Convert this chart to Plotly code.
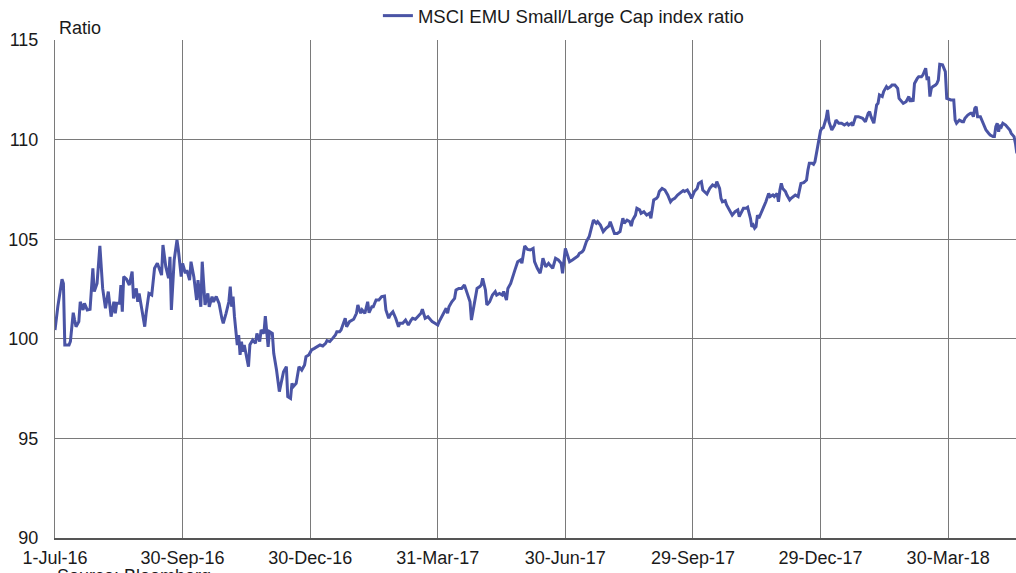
import pandas as pd
import plotly.graph_objects as go

start_date = "2016-07-01"
series_name = "MSCI EMU Small/Large Cap index ratio"

# days since 1-Jul-16
day_offsets = [
    0, 2, 5, 6, 7, 10, 11, 13, 14, 15, 17, 18, 20, 21, 23, 25, 27, 28, 30, 32, 34, 36, 38, 40, 42, 43, 44, 46, 47, 48, 49,
    51, 53, 55, 56, 58, 59, 60, 62, 64, 65, 67, 69, 71, 73, 74, 76, 77, 79, 81, 82, 83, 85, 87, 88, 90, 91, 93, 94, 96, 97,
    99, 101, 102, 104, 105, 107, 109, 110, 112, 113, 115, 117, 119, 120, 122, 124, 125, 126, 127, 128, 130, 131, 132, 133,
    134, 135, 138,
    139, 141, 143, 144, 146, 147, 149, 150, 152, 153, 155, 156, 158, 160, 162, 163, 165, 166, 168, 169, 170, 172, 174, 176,
    178, 179, 181, 183, 185, 187, 189, 191, 193, 194, 196, 198, 200, 201, 203, 204, 207, 208, 210, 213, 215, 216, 218, 219,
    221, 223, 224, 226, 227, 229, 231, 233, 235, 236, 238, 239, 241, 243, 245, 246, 248, 250, 252, 254, 255, 257, 259, 261,
    262, 264, 266, 267, 269, 271, 273,
    274, 276, 277, 279, 280, 281, 283, 285, 286, 288, 290, 292, 294, 296, 297, 299, 301, 303, 304, 305, 307, 308, 310, 312,
    314, 315, 317, 319, 320, 322, 323, 325, 326, 328, 330, 332, 333, 335, 337, 339, 341, 342, 344, 346, 347, 348, 350, 352,
    353, 355, 357, 359, 361, 362, 364, 365, 367, 369, 371, 373, 374, 376, 377, 379, 381, 383, 384, 386, 387, 389, 391, 393,
    395, 396, 398, 399, 401, 403, 405, 406, 408, 410,
    411, 412, 414, 415, 417, 418, 420, 422, 424, 425, 427, 429, 430, 431, 433, 435, 437, 439, 440, 442, 444, 446, 448, 449,
    451, 453, 454, 456, 458, 459, 461, 462, 464, 465, 467, 469, 471, 472, 474, 475, 476, 478, 479, 481, 483, 485, 487, 488,
    490, 491, 493, 494, 496, 497, 498, 499, 500, 501, 502, 504, 506, 507, 509, 510, 512, 513, 515, 516, 517, 518, 519, 521,
    522, 524, 525, 527, 528, 530, 531, 532, 534, 536, 537, 538, 540, 541, 542, 544,
    546, 547, 548, 550, 551, 552, 554, 556, 557, 559, 561, 563, 565, 566, 568, 569, 571, 573, 575, 576, 578, 580, 581, 582,
    584, 585, 586, 587, 588, 590, 591, 593, 594, 596, 597, 599, 601, 602, 604, 605, 607, 609, 610, 611, 612, 613, 615, 616,
    618, 619, 621, 622, 623, 624, 625, 626, 628, 629, 630, 631, 633, 634, 635, 636, 638, 639, 641, 642, 643, 645, 647, 648,
    649, 650, 651, 653, 654, 655, 656, 657, 658, 660, 661, 662, 663, 664, 666, 667, 669, 670, 671, 672, 673, 674, 675, 676,
    678, 679, 681, 682, 684, 685, 686,
]

ratio = [
    100.44, 101.61, 102.99, 102.78, 99.69, 99.69, 99.87, 101.31, 100.94, 100.61, 100.86, 101.86, 101.45, 101.78, 101.45,
    101.48, 103.54, 102.37, 102.78, 104.66, 102.53, 101.53, 102.37, 101.11, 101.86, 101.28, 101.78, 101.78, 102.70, 101.36,
    103.12, 102.99, 102.70, 103.37, 102.03, 102.53, 101.86, 102.28, 101.45, 100.61, 101.28, 102.28, 102.20, 103.54, 103.79,
    103.62, 103.20, 104.71, 103.62, 103.04, 104.12, 101.45, 103.96, 104.96, 104.46, 103.12, 103.79, 103.29, 103.45, 102.95,
    103.87, 103.12, 101.95, 102.95, 101.61, 103.87, 101.70, 102.28, 101.61, 102.12, 101.86, 102.12, 101.78, 101.03, 100.78,
    101.28, 101.86, 102.62, 101.61, 102.12, 101.11, 99.69, 100.19, 99.19, 99.86, 99.35, 99.69, 98.60,
    99.70, 99.94, 99.77, 100.27, 99.86, 100.44, 100.27, 101.14, 99.60, 100.36, 100.27, 99.27, 98.43, 97.35, 98.10, 98.35,
    98.60, 97.10, 97.01, 97.76, 97.60, 97.76, 98.60, 98.43, 98.68, 99.10, 99.19, 99.44, 99.52, 99.60, 99.69, 99.64, 99.77,
    99.91, 99.86, 100.02, 100.19, 100.36, 100.36, 100.44, 101.03, 100.61, 100.86, 100.98, 101.28, 101.70, 101.28, 101.45,
    101.28, 101.86, 101.31, 101.61, 101.61, 101.95, 101.95, 102.12, 102.15, 101.45, 101.03, 101.20, 101.36, 101.03, 100.61,
    100.78, 100.78, 100.94, 100.69, 100.94, 101.03, 100.98, 101.11, 101.28, 101.48, 101.03, 101.11, 101.03, 100.86, 100.78,
    100.69,
    100.86, 101.11, 101.28, 101.53, 101.28, 101.61, 101.86, 102.03, 102.45, 102.53, 102.53, 102.70, 102.28, 101.86, 100.94,
    101.78, 102.53, 102.62, 102.70, 103.04, 102.45, 101.70, 101.86, 102.20, 102.37, 102.20, 102.28, 102.20, 102.37, 101.95,
    102.53, 102.78, 103.04, 103.45, 103.87, 103.96, 103.79, 104.66, 104.49, 104.46, 104.54, 103.87, 103.54, 103.29, 103.62,
    104.04, 103.62, 103.79, 103.70, 103.54, 104.04, 103.96, 103.79, 103.29, 104.54, 104.29, 103.87, 103.96, 104.04, 104.16,
    104.29, 104.37, 104.46, 104.88, 105.13, 105.71, 105.96, 105.80, 105.88, 105.71, 105.38, 105.55, 105.66, 105.88, 105.55,
    105.29, 105.29, 105.38, 106.05, 105.80, 105.96, 105.88,
    105.66, 105.96, 106.21, 106.55, 106.47, 106.30, 106.38, 106.21, 106.30, 106.05, 106.97, 107.05, 107.14, 107.39, 107.55,
    107.47, 107.22, 106.88, 106.97, 107.05, 107.22, 107.34, 107.44, 107.39, 107.47, 107.22, 107.05, 107.39, 107.55, 107.80,
    107.89, 107.47, 107.30, 107.27, 107.55, 107.72, 107.64, 107.89, 107.55, 107.05, 106.88, 106.93, 106.72, 106.47, 106.21,
    106.38, 106.47, 106.13, 106.47, 106.55, 106.55, 106.60, 106.05, 105.63, 105.71, 105.55, 105.63, 106.21, 106.05, 106.38,
    106.72, 106.88, 107.30, 107.14, 107.22, 107.14, 107.30, 106.88, 107.47, 107.80, 107.55, 107.39, 107.22, 106.97, 107.05,
    107.14, 107.22, 107.14, 107.55, 107.80, 107.84, 107.97, 108.47, 108.81, 108.81, 108.76, 108.89, 109.60,
    110.45, 110.57, 110.60, 111.07, 111.49, 110.90, 110.48, 110.73, 110.98, 110.82, 110.82, 110.73, 110.82, 110.73, 110.82,
    110.70, 111.15, 111.15, 111.07, 111.07, 110.90, 111.32, 111.40, 111.15, 110.82, 111.32, 111.74, 111.82, 112.24, 112.16,
    112.41, 112.66, 112.57, 112.66, 112.74, 112.74, 112.57, 112.07, 111.90, 111.82, 111.90, 112.16, 111.90, 112.07, 111.90,
    112.82, 113.07, 113.16, 113.16, 113.24, 113.58, 112.99, 113.16, 112.16, 112.57, 112.66, 112.74, 112.82, 112.99, 113.78,
    113.75, 113.58, 113.41, 112.07, 112.02, 111.99, 111.99, 110.98, 110.82, 110.98, 110.90, 110.90, 111.07, 111.15, 111.23,
    111.32, 111.32, 111.15, 111.57, 111.65, 111.15, 111.15, 110.98, 110.90, 110.65, 110.48, 110.31, 110.23, 110.15, 110.15,
    110.65, 110.82, 110.40, 110.73, 110.65, 110.82, 110.73, 110.65, 110.48, 110.31, 110.15, 109.81, 109.31,
]

tick_dates = ["2016-07-01", "2016-09-30", "2016-12-30", "2017-03-31", "2017-06-30",
              "2017-09-29", "2017-12-29", "2018-03-30"]
tick_labels = ["1-Jul-16", "30-Sep-16", "30-Dec-16", "31-Mar-17", "30-Jun-17",
               "29-Sep-17", "29-Dec-17", "30-Mar-18"]
y_ticks = [90, 95, 100, 105, 110, 115]

t0 = pd.Timestamp(start_date)
dates = [t0 + pd.Timedelta(days=d) for d in day_offsets]
x_end = t0 + pd.Timedelta(days=685.4)

FONT = "Liberation Sans, Arial, sans-serif"
fig = go.Figure()
fig.add_trace(go.Scatter(x=dates, y=ratio, mode="lines", name=series_name,
                         line=dict(color="#4a54a5", width=3)))

fig.update_layout(
    width=1016, height=573,
    margin=dict(l=55, r=0, t=40, b=35, autoexpand=False),
    paper_bgcolor="white", plot_bgcolor="white",
    font=dict(family=FONT, size=18, color="#1a1a1a"),
    showlegend=True,
    legend=dict(orientation="h", x=0.336, xanchor="left", y=1.048, yanchor="middle",
                font=dict(size=18.5), bgcolor="rgba(0,0,0,0)", itemwidth=30),
    xaxis=dict(type="date", range=[t0, x_end], tickvals=tick_dates, ticktext=tick_labels,
               automargin=False,
               showgrid=True, gridcolor="#7a7a7a", gridwidth=1,
               showline=True, linecolor="#555555", linewidth=1.5,
               ticks="", tickfont=dict(size=18), ticklabelstandoff=3),
    yaxis=dict(range=[90, 115], tickvals=y_ticks, showgrid=True, gridcolor="#7a7a7a",
               automargin=False,
               gridwidth=1, zeroline=False, showline=True, linecolor="#7a7a7a",
               ticks="", tickfont=dict(size=18), ticklabelstandoff=12),
    annotations=[
        dict(text="Ratio", xref="paper", yref="paper", x=0.002, y=1.024, xanchor="left",
             yanchor="middle", showarrow=False, font=dict(size=18)),
        dict(text="Source: Bloomberg", xref="paper", yref="paper", x=0.0, y=-0.077,
             xanchor="left", yanchor="middle", showarrow=False, font=dict(size=18)),
    ],
)
fig.write_html(
    "out.html",
    config={"displayModeBar": False},
    post_script="document.body.style.margin='0';document.body.style.overflow='hidden';",
)
